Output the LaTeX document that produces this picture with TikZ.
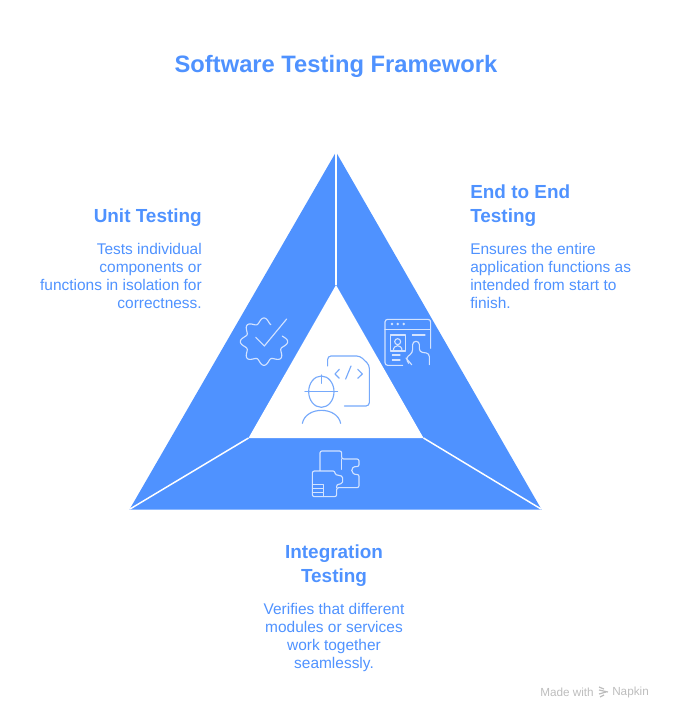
\documentclass[tikz,border=0pt]{standalone}
\usepackage{fontspec}
\setmainfont{Liberation Sans}
\definecolor{napblue}{HTML}{4F92FF}
\definecolor{napicon}{HTML}{D3E3FF}
\definecolor{napline}{HTML}{76A9FB}
\definecolor{napgray}{HTML}{BDBDBD}
\tikzset{
	headtext/.style={text=napblue, font=\fontsize{14.2}{18}\selectfont\bfseries, inner sep=0pt},
	bodytext/.style={text=napblue, font=\fontsize{11.6}{13.5}\selectfont, inner sep=0pt},
	iconline/.style={draw=napicon, line width=0.85pt, line cap=round, line join=round},
	manline/.style={draw=napline, line width=0.85pt, line cap=round, line join=round},
	zoomed/.style={shift={(220,280)}, x=0.25pt, y=-0.25pt}
}
\begin{document}
\begin{tikzpicture}[x=0.75pt, y=-0.75pt]
	\useasboundingbox (0, 0) rectangle (672, 721);
	
	%%%%% triangle %%%%%
	\fill[napblue] (336, 152) -- (541.5, 509.5) -- (129.5, 509.5) -- cycle;
	\fill[white] (336, 285) -- (423.5, 438) -- (248.5, 438) -- cycle;
	\draw[white, line width=1.1pt] (336, 152) -- (336, 285);
	\draw[white, line width=1.1pt] (248.5, 438) -- (130, 509);
	\draw[white, line width=1.1pt] (423.5, 438) -- (541, 509);
	
	%%%%% texts %%%%%
	\node[headtext, font=\fontsize{17.8}{22}\selectfont\bfseries] (title) at (336, 66.5) {Software Testing Framework};
	
	\node[headtext, anchor=east, align=right] (unithead) at (202, 218) {Unit Testing};
	\node[bodytext, anchor=north east, align=right] (unitbody) at (202, 243) {Tests individual\\components or\\functions in isolation for\\correctness.};
	
	\node[headtext, anchor=west, align=left] (endhead) at (470, 206) {End to End\\Testing};
	\node[bodytext, anchor=north west, align=left] (endbody) at (470, 243) {Ensures the entire\\application functions as\\intended from start to\\finish.};
	
	\node[headtext, align=center] (inthead) at (334, 566) {Integration\\Testing};
	\node[bodytext, anchor=north, align=center] (intbody) at (334, 603) {Verifies that different\\modules or services\\work together\\seamlessly.};
	
	\node[text=napgray, inner sep=0pt, anchor=east, font=\fontsize{8.8}{10}\selectfont] (madewith) at (594, 692.5) {Made with};
	\node[text=napgray, inner sep=0pt, anchor=west, font=\fontsize{8.8}{10}\selectfont] (napkin) at (612, 692.5) {Napkin};
	\draw[napgray, line width=0.9pt] (599, 687) -- (604, 689) (599, 690) -- (608, 692) (599, 694) -- (606, 692) (600, 697) -- (604, 695);
	
	%%%%% icons, in the 3x crop numbers %%%%%
	\begin{scope}[zoomed]
		% gear and check
		\draw[iconline] plot[samples=180, domain=68:377] ({132+(63+8*cos(8*\x))*cos(\x)}, {185-(63+8*cos(8*\x))*sin(\x)});
		\draw[iconline] (107, 172) -- (133, 198) -- (200, 117);
		
		% browser
		\draw[iconline, rounded corners=2pt] (548, 256) -- (495, 256) -- (495, 118) -- (632, 118) -- (632, 205);
		\draw[iconline] (495, 148) -- (632, 148);
		\fill[napicon] (516, 132) circle (4) (533, 132) circle (4) (551, 132) circle (4);
		\draw[iconline] (512, 165) rectangle (556, 213);
		\draw[iconline] (533, 185) circle (9);
		\draw[iconline] (520, 212) .. controls (520, 192) and (546, 192) .. (546, 212);
		\draw[iconline] (577, 165) -- (615, 165);
		\draw[iconline] (517, 225) -- (540, 225);
		\draw[iconline] (517, 240) -- (540, 240);
		\draw[iconline, rounded corners=2.4pt] (566, 250) -- (557, 234) -- (578, 218) -- (578, 184) -- (598, 184) -- (598, 216) -- (628, 220) -- (628, 254);
		\draw[iconline] (558, 234) -- (575, 254);
		
		% puzzle
		\draw[iconline, rounded corners=1.5pt] (300, 570) -- (300, 513) -- (365, 513) -- (365, 537) -- (417, 537) -- (417, 560) .. controls (388, 558) and (392, 585) .. (417, 583) -- (417, 623) -- (350, 623) -- (350, 650) -- (277, 650) -- (277, 573) -- (345, 573) .. controls (345, 590) and (368, 582) .. (368, 600) .. controls (368, 610) and (358, 613) .. (350, 613) -- (350, 623);
		\draw[iconline] (365, 537) -- (365, 568);
		\draw[iconline] (277, 613) -- (310, 613) -- (310, 650);
		\draw[iconline] (277, 625) -- (310, 625);
		\draw[iconline] (277, 638) -- (310, 638);
		
		% worker and code sheet
		\draw[manline] (304, 335) ellipse (38 and 47);
		\draw[manline] (255, 335) -- (353, 335);
		\draw[manline] (304, 285) -- (304, 310);
		\draw[manline] (247, 430) .. controls (258, 378) and (351, 378) .. (362, 430);
		\draw[manline, rounded corners=2.5pt] (323, 258) -- (323, 228) -- (420, 228) -- (448, 255) -- (448, 378) -- (373, 378);
		\draw[manline] (358, 268) -- (345, 282) -- (358, 295);
		\draw[manline] (393, 258) -- (377, 297);
		\draw[manline] (413, 268) -- (427, 282) -- (413, 295);
	\end{scope}
\end{tikzpicture}
\end{document}
